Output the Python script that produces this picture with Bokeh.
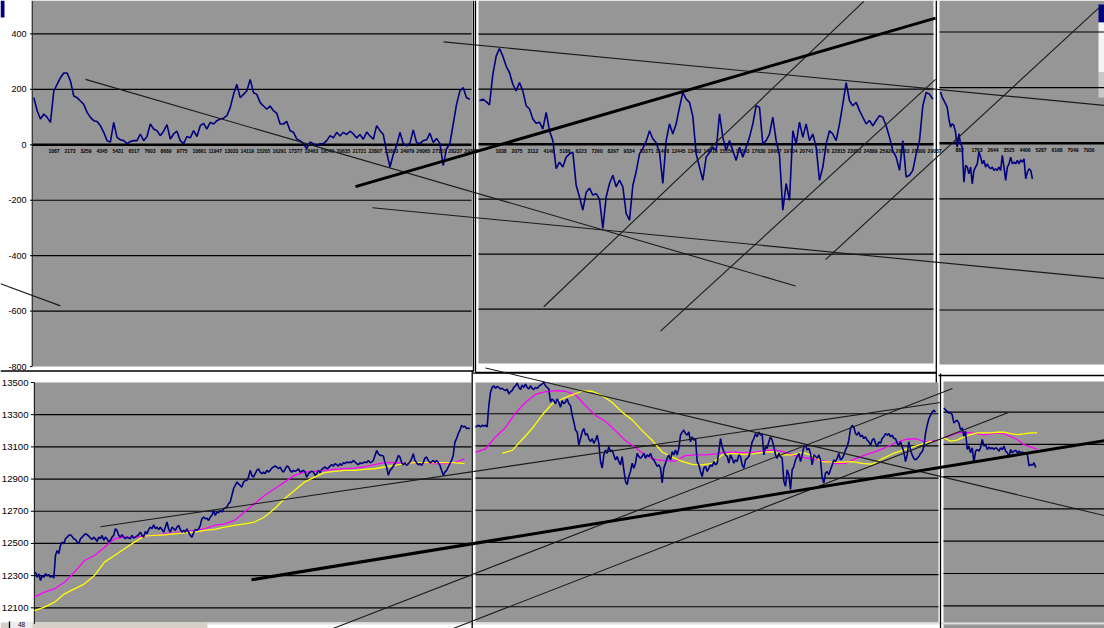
from bokeh.plotting import figure
from bokeh.models import Range1d
from bokeh.embed import file_html
from bokeh.resources import INLINE
from bokeh.core.properties import value
import numpy as np

# ---------------- DATA ----------------
# Top row: oscillator (blue) per screenshot panel, sampled at uniform bar steps
TL_OSC = [170,123,93,111,99,81,194,218,242,259, 259,230,176,170,158,146,117,99,87,84,
          69,45,15,10,81,27,18,15,4,12, 15,15,39,15,30,75,57,51,33,49,
          73,21,39,49,15,4,30,25,51,30, 69,77,57,81,75,87,93,96,105,134,
          182,218,170,182,194,236,188,182,152,140, 129,140,123,113,75,75,84,51,45,21,
          15,4,-14,10,4,-6,4,4,15,33, 25,45,32,45,37,49,39,25,37,20,
          46,32,20,69,51,37,-26,-80,-35,-2, 45,4,-4,6,54,8,4,15,18,42,
          8,23,4,-75,-14,4,75,146,194,206, 170,164]
TL_X0, TL_STEP = 90, 226

TM_OSC = [158,164,155,143,254,320,348,320,284,260, 218,194,224,194,140,128,92,76,80,55,
          116,49,13,-89,-65,-83,-47,-35,-29,-149, -192,-240,-175,-160,-185,-180,-200,-306,-192,-143,
          -113,-155,-131,-155,-252,-276,-150,-100,-35,-15, 10,49,20,5,-30,-143,13,74,37,74,
          134,188,164,152,101,-35,-83,-131,-47,-30, -11,-23,110,25,-23,13,-23,-59,-11,-47,
          -11,25,74,140,134,1,13,37,98,13, -40,-240,-143,-204,49,1,80,25,74,13,
          37,-11,-131,-83,1,49,37,13,74,146, 224,158,140,152,122,98,74,86,67,86,
          104,98,67,25,-23,-47,-95,13,-119,-113, -95,-35,13,140,188,182,164]
TM_X0, TM_STEP = 0, 216

TR_OSC = [184,166,154,142,130,88,58,70,64,40, -14,34,-2,-14,-140,-80,-86,-110,-86,-146,
          -98,-86,-74,-32,-50,-74,-62,-86,-74,-86, -92,-86,-98,-92,-98,-86,-98,-44,-86,-134,
          -86,-74,-50,-74,-68,-74,-62,-74,-60,-68, -56,-128,-104,-92,-98,-128]
TR_X0, TR_STEP = 55, 92

# Bottom row: price (blue) with two moving averages (magenta, yellow)
BL_PRICE = [12322,12290,12311,12270,12301,12290,12311,12301,12305,12290,
            12301,12284,12425,12456,12436,12487,12508,12498,12529,12539,
            12550,12554,12543,12529,12525,12508,12498,12529,12539,12550,
            12560,12554,12546,12533,12525,12539,12529,12512,12539,12529,
            12550,12519,12539,12529,12508,12519,12539,12550,12591,12581,
            12550,12539,12554,12539,12529,12539,12533,12529,12550,12533,
            12539,12546,12554,12570,12550,12539,12575,12560,12587,12601,
            12591,12616,12591,12601,12587,12601,12587,12570,12601,12633,
            12591,12570,12601,12591,12581,12601,12612,12587,12570,12581,
            12570,12591,12570,12550,12539,12566,12587,12581,12591,12612,
            12653,12664,12653,12657,12643,12664,12674,12705,12674,12695,
            12691,12705,12695,12715,12720,12726,12747,12757,12798,12840,
            12860,12881,12870,12860,12850,12881,12891,12891,12912,12954,
            12923,12912,12933,12954,12964,12943,12933,12943,12933,12954,
            12943,12954,12968,12975,12981,12975,12964,12975,12954,12943,
            12960,12981,12975,12954,12943,12954,12948,12954,12964,12943,
            12948,12954,12943,12912,12933,12943,12948,12943,12923,12933,
            12954,12940,12960,12968,12975,12964,12968,12981,12989,12981,
            12996,12989,12981,12996,12985,13002,12996,13006,13002,13006,
            13002,13016,13006,12996,12989,13002,12996,13002,13006,13002,
            13016,13002,13006,13016,13047,13078,13057,13047,13047,13043,
            13002,12975,12923,12954,12964,12981,12996,13016,13047,13037,
            13002,12989,13002,12985,12996,13006,13026,13057,13016,13002,
            12989,12996,12985,13002,13030,13037,13016,13002,13006,13016,
            13002,13016,13002,12985,12954,12923,12943,12954,12975,12996,
            13016,13047,13130,13151,13182,13202,13234,13223,13229,13213,
            13217,13213]
BL_X0, BL_STEP = 68, 113
BL_MA_FAST = [12166,12197,12218,12259,12322,12394,12425,12477,12529,12539,
              12539,12546,12550,12560,12566,12575,12581,12591,12612,12622,
              12643,12695,12747,12798,12840,12881,12923,12943,12948,12954,
              12960,12964,12968,12975,12989,13002,13002,12996,13002,13002,
              12996,12996,13002,13026]
BL_MA_SLOW = [12083,12104,12135,12187,12218,12249,12301,12384,12425,12467,
              12508,12546,12550,12554,12560,12566,12570,12581,12587,12601,
              12612,12622,12633,12664,12715,12778,12829,12881,12912,12940,
              12948,12954,12954,12960,12964,12975,12985,12996,13002,13002,
              13002,13002,13002,12996]
BL_MA_X0, BL_MA_STEP = 0, 679

BM_PRICE = [13218,13224,13228,13218,13228,13224,13228,13218,13351,13433,
            13464,13474,13458,13470,13464,13454,13458,13450,13444,13454,
            13423,13437,13444,13464,13474,13491,13464,13450,13478,13464,
            13485,13464,13454,13474,13458,13450,13464,13458,13470,13478,
            13485,13495,13474,13464,13454,13372,13392,13382,13362,13392,
            13372,13341,13382,13362,13372,13392,13362,13351,13290,13249,
            13198,13187,13105,13146,13187,13208,13167,13177,13146,13126,
            13146,13116,13136,13167,13116,13003,12962,13044,13075,13054,
            13095,13064,13075,13044,13013,13034,13003,12982,13034,12952,
            12880,12859,12910,12941,12993,12962,12993,13054,13034,13023,
            13034,13054,13023,13044,13034,13054,13023,13013,12993,12972,
            12982,12962,12870,12962,12993,13023,13044,13013,13064,13044,
            13075,13044,13085,13167,13187,13198,13177,13167,13187,13126,
            13157,13136,13146,13003,12982,12941,12910,12962,12972,12941,
            12962,12982,12972,13003,12982,12993,13064,13146,13095,13064,
            13044,13034,12993,13044,13023,12993,13013,13003,13044,13034,
            12982,12962,13013,13023,13034,13075,13126,13146,13177,13157,
            13187,13167,13177,13044,13095,13085,13126,13157,13136,13095,
            13044,13023,13054,13034,13023,12880,12849,12952,12921,12829,
            12952,12972,13013,13034,13054,13003,13044,13095,13105,13075,
            13085,13054,12982,13044,13034,13023,13044,13013,12900,12870,
            12931,12941,12921,12952,12982,13013,13003,13023,13054,13013,
            13023,13044,13075,13095,13136,13208,13228,13218,13177,13167,
            13187,13157,13167,13146,13157,13136,13126,13105,13136,13146,
            13116,13095,13126,13116,13146,13157,13177,13167,13177,13157,
            13167,13146,13146,13116,13105,13126,13095,13064,13003,13044,
            13126,13075,13044,13023,13013,13023,13034,13054,13064,13095,
            13177,13228,13269,13290,13310,13321,13310]
BM_X0, BM_STEP = 0, 108
BM_MA_FAST = [13060,13081,13156,13215,13305,13372,13420,13437,13444,13440,
              13418,13350,13290,13252,13195,13132,13090,13040,13015,13008,
              13006,13040,13044,13044,13050,13060,13062,13056,13062,13070,
              13075,13060,13040,13025,13018,13005,12990,12992,13020,13045,
              13065,13090,13120,13140,13146,13125,13135]
BM_FAST_X0, BM_MA_STEP = 0, 648
BM_MA_SLOW = [13054,13072,13140,13208,13292,13362,13392,13418,13440,13440,
              13413,13370,13310,13262,13195,13135,13062,13030,13004,12985,
              12982,12992,13044,13054,13048,13050,13060,13064,13044,13044,
              13060,13040,13002,12999,12999,13003,12992,12986,13020,13050,
              13072,13092,13112,13132]
BM_SLOW_X0 = 1728

BR_PRICE = [13325,13314,13304,13294,13298,13284,13232,13243,13249,13232,
            13191,13202,13150,13181,13068,13089,13048,13079,12987,13058,
            13068,13058,13079,13130,13089,13099,13068,13084,13072,13079,
            13068,13079,13072,13058,13079,13068,13089,13058,13048,13023,
            13068,13048,13058,13064,13048,13058,13048,13052,13044,13048,
            13038,12966,12976,12970,12986,12956]
BR_X0, BR_STEP = 18, 92
BR_MA_FAST = [13140,13154,13171,13175,13171,13167,13159,13165,13171,13167,13150,13130,13099,13085,13070]
BR_MA_SLOW = [13140,13120,13126,13146,13160,13171,13171,13171,13175,13175,13167,13160,13165,13171,13171]
BR_MA_X0, BR_MA_STEP = 18, 367

# axis ticks / labels
TOP_TICKS = [400, 200, 0, -200, -400, -600, -800]
BOT_TICKS = [13500, 13300, 13100, 12900, 12700, 12500, 12300, 12100]
TL_CAT_STEP, TM_CAT_STEP, TR_CAT_STEP = 1086, 1037, 881
TL_CAT_N, TM_CAT_N, TR_CAT_N = 27, 28, 9
SHEET_TAB = "48"

# hand-drawn trend lines, in the coordinates of their host panel: (x0, y0, x1, y1)
TREND_THIN = {
    "tl": [(3599, 236, 51808, -509), (-2173, -501, 1901, -581), (23086, -227, 72789, -482)],
    "tm": [(-2333, 372, 40500, 141), (4167, -591, 24903, 519), (11729, -680, 29549, 236),
           (22421, -420, 40241, 501)],
    "bm": [(648, 13585, 40759, 12667)],
    "bl": [(4481, 12604, 61517, 13376), (20235, 11970, 62332, 13463), (28400, 11970, 66135, 13313)],
}
TREND_THICK = {
    "tl": [(21932, -151, 61314, 457)],
    "bl": [(14734, 12274, 72653, 13139)],
}

# ---------------- LAYOUT ----------------
VX0, VX1, VY0, VY1 = 0, 1104, 0, 628   # screen canvas of the collage
GRAY = "#969696"
NAVY = "#000080"

# panel: index-0 screen x, index per px, screen y of ref value, ref value, value per px,
#        gray rect (l, t, r, b), gridline index extent
PANELS = {
    "tl": dict(s0=32, f=67.9, sy=144.3, v=0, g=3.607, rect=(32, 0, 472, 366), ext=(0, 29808)),
    "tm": dict(s0=479, f=64.8, sy=143.7, v=0, g=3.636, rect=(478, 0, 933, 363), ext=(-65, 29419)),
    "tr": dict(s0=939, f=55.06, sy=142.7, v=0, g=3.597, rect=(939, 0, 1104, 364), ext=(0, 9085)),
    "bl": dict(s0=34, f=67.9, sy=382, v=13500, g=6.214, rect=(34, 382, 471, 622), ext=(0, 29672)),
    "bm": dict(s0=475, f=64.8, sy=381.1, v=13500, g=6.218, rect=(475, 382, 938, 622), ext=(0, 30002)),
    "br": dict(s0=943, f=55.06, sy=379.3, v=13500, g=6.195, rect=(943, 381, 1104, 628), ext=(0, 8865)),
}

p = figure(width=VX1 - VX0, height=VY1 - VY0, output_backend="svg", toolbar_location=None,
           x_range=Range1d(VX0, VX1), y_range=Range1d(VY1, VY0),
           min_border=0, x_axis_type=None, y_axis_type=None)
p.grid.visible = False
p.outline_line_color = None
p.background_fill_color = "white"
p.border_fill_color = "white"

xr, yr = {}, {}
for k, d in PANELS.items():
    xr[k] = Range1d((VX0 - d["s0"]) * d["f"], (VX1 - d["s0"]) * d["f"])
    yr[k] = Range1d(d["v"] - (VY1 - d["sy"]) * d["g"], d["v"] - (VY0 - d["sy"]) * d["g"])
p.extra_x_ranges = xr
p.extra_y_ranges = yr

# gray plot areas
rects = [d["rect"] for d in PANELS.values()]
p.quad(left=[r[0] for r in rects], right=[r[2] for r in rects],
       top=[r[1] for r in rects], bottom=[r[3] for r in rects],
       fill_color=GRAY, line_color=None)

# window chrome fragments (title bars, sheet-tab strip)
CHROME = [((0, 0, 4, 17), NAVY), ((1098, 4, 1104, 22), NAVY), ((1098, 22, 1104, 72), "#f4f4f4"),
          ((1098, 72, 1104, 97), "#c8c8c8"), ((0, 622, 207, 628), "#d4d0c8"),
          ((9, 621, 32, 628), "#ececec"), ((207, 622, 1104, 624), "#e0e0e0")]
p.quad(left=[c[0][0] for c in CHROME], top=[c[0][1] for c in CHROME],
       right=[c[0][2] for c in CHROME], bottom=[c[0][3] for c in CHROME],
       fill_color=[c[1] for c in CHROME], line_color=None)
p.text(x=[21], y=[624.3], text=[SHEET_TAB], text_align="center", text_baseline="middle",
       text_font=value("Liberation Sans"), text_font_size="6.5px", text_color="black")

def seg(k, xs0, ys0, xs1, ys1, **kw):
    p.segment(x0=xs0, y0=ys0, x1=xs1, y1=ys1, x_range_name=k, y_range_name=k, **kw)

# gridlines
for k in ("tl", "tm", "tr"):
    e = PANELS[k]["ext"]
    thin = [t for t in TOP_TICKS if t not in (0, -800)]
    seg(k, [e[0]] * len(thin), thin, [e[1]] * len(thin), thin, line_color="black", line_width=1.2)
    seg(k, [e[0]], [0], [e[1]], [0], line_color="black", line_width=2.6)
for k in ("bl", "bm", "br"):
    e = PANELS[k]["ext"]
    thin = [t for t in BOT_TICKS if t != 13500]
    seg(k, [e[0]] * len(thin), thin, [e[1]] * len(thin), thin, line_color="black", line_width=1.2)

# y axes with labels (left panels only)
seg("tl", [-20], [-800], [-20], [520], line_color="black", line_width=1)
seg("tl", [-170] * len(TOP_TICKS), TOP_TICKS, [-20] * len(TOP_TICKS), TOP_TICKS, line_color="black", line_width=1)
p.text(x=[26] * len(TOP_TICKS), y=TOP_TICKS, text=[str(t) for t in TOP_TICKS], y_range_name="tl",
       text_align="right", text_baseline="middle", text_font=value("Liberation Sans"),
       text_font_size="9px", text_color="black")
seg("bl", [-10], [12000], [-10], [13500], line_color="black", line_width=1)
seg("bl", [-250] * len(BOT_TICKS), BOT_TICKS, [-10] * len(BOT_TICKS), BOT_TICKS, line_color="black", line_width=1)
p.text(x=[28] * len(BOT_TICKS), y=BOT_TICKS, text=[str(t) for t in BOT_TICKS], y_range_name="bl",
       text_align="right", text_baseline="middle", text_font=value("Liberation Sans"),
       text_font_size="9.6px", text_color="black")

# category labels under the zero line
for k, step, n in (("tl", TL_CAT_STEP, TL_CAT_N), ("tm", TM_CAT_STEP, TM_CAT_N), ("tr", TR_CAT_STEP, TR_CAT_N)):
    cx = [1 + step * i for i in range(1, n + 1)]
    p.text(x=cx, y=[-24] * n, text=[str(c) for c in cx], x_range_name=k, y_range_name=k,
           text_align="left", text_baseline="middle", text_font=value("Liberation Sans"),
           text_font_size="5px", text_font_style="bold", text_color="black")

def series(k, x0, step, vals, color, width):
    xs = x0 + step * np.arange(len(vals))
    p.line(xs, vals, x_range_name=k, y_range_name=k, line_color=color, line_width=width)

series("tl", TL_X0, TL_STEP, TL_OSC, NAVY, 1.6)
series("tm", TM_X0, TM_STEP, TM_OSC, NAVY, 1.6)
series("tr", TR_X0, TR_STEP, TR_OSC, NAVY, 1.6)

series("bl", BL_MA_X0, BL_MA_STEP, BL_MA_FAST, "#FF00FF", 1.3)
series("bl", BL_MA_X0, BL_MA_STEP, BL_MA_SLOW, "#FFFF00", 1.3)
series("bl", BL_X0, BL_STEP, BL_PRICE, NAVY, 1.6)
series("bm", BM_FAST_X0, BM_MA_STEP, BM_MA_FAST, "#FF00FF", 1.3)
series("bm", BM_SLOW_X0, BM_MA_STEP, BM_MA_SLOW, "#FFFF00", 1.3)
series("bm", BM_X0, BM_STEP, BM_PRICE, NAVY, 1.6)
series("br", BR_MA_X0, BR_MA_STEP, BR_MA_FAST, "#FF00FF", 1.3)
series("br", BR_MA_X0, BR_MA_STEP, BR_MA_SLOW, "#FFFF00", 1.3)
series("br", BR_X0, BR_STEP, BR_PRICE, NAVY, 1.6)

# window frames between the pasted screenshots (screen coords)
FRAMES = [(473, 0, 473, 371), (0, 370.5, 473, 370.5), (475, 0, 475, 372), (475, 372, 936, 372),
          (935.8, 0, 935.8, 382), (938, 375, 1104, 375), (471.7, 370, 471.7, 628),
          (472, 372.7, 936, 372.7), (940, 373, 940, 628), (9, 621, 9, 628)]
p.segment(x0=[f[0] for f in FRAMES], y0=[f[1] for f in FRAMES], x1=[f[2] for f in FRAMES],
          y1=[f[3] for f in FRAMES], line_color="black", line_width=1.3)

# trend lines
for k, lines in TREND_THIN.items():
    seg(k, [l[0] for l in lines], [l[1] for l in lines], [l[2] for l in lines], [l[3] for l in lines],
        line_color="#1a1a1a", line_width=1.1)
for k, lines in TREND_THICK.items():
    seg(k, [l[0] for l in lines], [l[1] for l in lines], [l[2] for l in lines], [l[3] for l in lines],
        line_color="black", line_width=3)

open("out.html", "w").write(file_html(p, INLINE))
